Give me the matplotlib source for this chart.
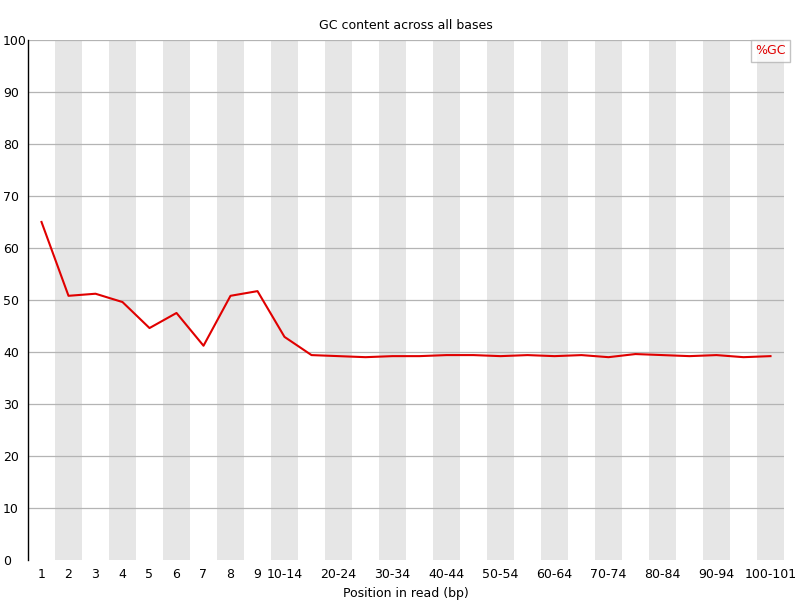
import matplotlib
matplotlib.use("Agg")
import matplotlib.pyplot as plt

categories = ["1", "2", "3", "4", "5", "6", "7", "8", "9",
              "10-14", "15-19", "20-24", "25-29", "30-34", "35-39", "40-44", "45-49",
              "50-54", "55-59", "60-64", "65-69", "70-74", "75-79", "80-84", "85-89",
              "90-94", "95-99", "100-101"]
gc_values = [65.0, 50.8, 51.2, 49.6, 44.6, 47.5, 41.2, 50.8, 51.7,
             42.9, 39.4, 39.2, 39.0, 39.2, 39.2, 39.4, 39.4,
             39.2, 39.4, 39.2, 39.4, 39.0, 39.6, 39.4, 39.2,
             39.4, 39.0, 39.2]
y_ticks = [0, 10, 20, 30, 40, 50, 60, 70, 80, 90, 100]

fig = plt.figure(figsize=(8, 6), dpi=100)
ax = fig.add_axes([0.035, 0.0667, 0.945, 0.8667])

n = len(categories)
x = list(range(n))
for i in x:
    if i % 2 == 1:
        ax.axvspan(i - 0.5, i + 0.5, color="#e6e6e6", lw=0, zorder=0)
for t in y_ticks[1:]:
    ax.axhline(t, color="#b4b4b4", lw=0.9, zorder=1)

ax.plot(x, gc_values, color="#e00000", lw=1.5, zorder=3, label="%GC")

ax.set_xlim(-0.5, n - 0.5)
ax.set_ylim(0, 100)
ax.set_yticks(y_ticks)
ax.set_yticklabels([str(t) for t in y_ticks], fontsize=9)
for lbl in ax.get_yticklabels():
    lbl.set_horizontalalignment("left")
tick_pos = [i for i in x if i < 9 or (i - 9) % 2 == 0]
ax.set_xticks(tick_pos)
ax.set_xticklabels([categories[i] for i in tick_pos], fontsize=9)
ax.tick_params(axis="x", length=0, pad=6)
ax.tick_params(axis="y", length=0, pad=18)
for s in ["top", "right", "bottom"]:
    ax.spines[s].set_visible(False)
ax.spines["left"].set_color("black")
ax.spines["left"].set_linewidth(1)

ax.set_xlabel("Position in read (bp)", fontsize=9, labelpad=4)
ax.set_title("GC content across all bases", fontsize=9, pad=8)

leg = ax.legend(loc="upper right", fontsize=9, handlelength=0, handletextpad=0,
                frameon=True, fancybox=False, borderpad=0.35,
                bbox_to_anchor=(1.008, 1.0), borderaxespad=0.0)
leg.get_frame().set_edgecolor("#b4b4b4")
leg.get_frame().set_linewidth(1)
leg.set_zorder(5)
for h in leg.legend_handles:
    h.set_visible(False)
for t in leg.get_texts():
    t.set_color("#e00000")

fig.savefig("out.png", dpi=100)
